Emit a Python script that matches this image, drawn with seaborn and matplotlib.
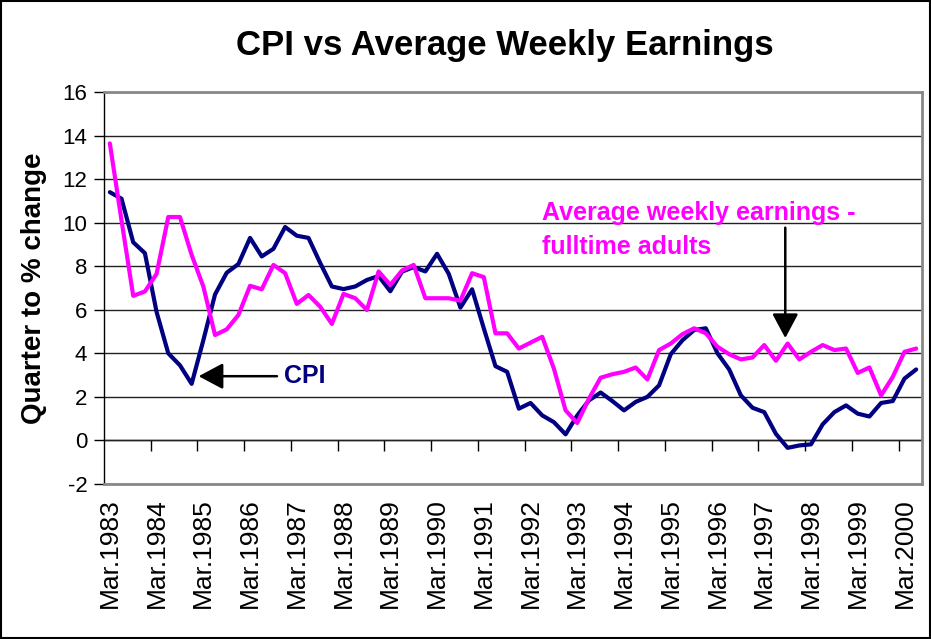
import numpy as np
import pandas as pd
import matplotlib
matplotlib.use('Agg')
from matplotlib import pyplot as plt
from matplotlib.patches import Rectangle
import seaborn as sns

# quarterly % change, Mar.1983 .. Jun.2000
cpi = [11.4, 11.1, 9.1, 8.6, 5.9, 4.0, 3.45, 2.6, 4.6, 6.7,
       7.7, 8.1, 9.3, 8.45, 8.8, 9.8, 9.4, 9.3, 8.15, 7.07,
       6.95, 7.07, 7.37, 7.55, 6.85, 7.75, 7.96, 7.76, 8.57, 7.65,
       6.1, 6.94, 5.15, 3.41, 3.15, 1.46, 1.72, 1.15, 0.84, 0.28,
       1.15, 1.84, 2.2, 1.81, 1.38, 1.77, 2.0, 2.53, 3.96, 4.6,
       5.07, 5.15, 4.0, 3.26, 2.07, 1.5, 1.3, 0.3, -0.34, -0.23,
       -0.18, 0.74, 1.3, 1.61, 1.23, 1.1, 1.72, 1.81, 2.84, 3.26]
awe = [13.64, 10.1, 6.64, 6.84, 7.65, 10.26, 10.26, 8.52, 7.07, 4.84,
       5.1, 5.76, 7.1, 6.94, 8.06, 7.68, 6.27, 6.68, 6.14, 5.35,
       6.73, 6.53, 5.99, 7.76, 7.14, 7.8, 8.06, 6.53, 6.53, 6.53,
       6.42, 7.68, 7.5, 4.92, 4.92, 4.22, 4.49, 4.76, 3.3, 1.38,
       0.8, 1.92, 2.88, 3.04, 3.15, 3.35, 2.8, 4.15, 4.45, 4.88,
       5.15, 4.92, 4.3, 3.96, 3.72, 3.81, 4.38, 3.66, 4.45, 3.72,
       4.07, 4.38, 4.15, 4.22, 3.1, 3.35, 2.07, 2.92, 4.07, 4.22]
tick_labels = ['Mar.1983', 'Mar.1984', 'Mar.1985', 'Mar.1986', 'Mar.1987', 'Mar.1988',
               'Mar.1989', 'Mar.1990', 'Mar.1991', 'Mar.1992', 'Mar.1993', 'Mar.1994',
               'Mar.1995', 'Mar.1996', 'Mar.1997', 'Mar.1998', 'Mar.1999', 'Mar.2000']

df = pd.DataFrame({'q': np.arange(len(cpi)), 'CPI': cpi, 'AWE': awe})

sns.set_style('white')
plt.rcParams['font.family'] = ['Liberation Sans', 'DejaVu Sans']
plt.rcParams['axes.unicode_minus'] = False
for k in ['text.color', 'axes.labelcolor', 'xtick.color', 'ytick.color']:
    plt.rcParams[k] = 'black'

fig = plt.figure(figsize=(9.31, 6.39), dpi=100)
ax = fig.add_axes([104 / 931, 1 - 484 / 639, 818 / 931, 392 / 639])

sns.lineplot(data=df, x='q', y='CPI', color='#000080', lw=3, ax=ax, zorder=3)
sns.lineplot(data=df, x='q', y='AWE', color='#FF00FF', lw=3, ax=ax, zorder=3)

ax.set_xlim(-0.5, len(cpi) - 0.5)
ax.set_ylim(-2, 16)
ax.set_yticks(range(-2, 17, 2))
ax.yaxis.grid(True, color='#222222', lw=1)
ax.set_axisbelow(True)
ax.set_xticks(range(0, len(cpi), 4))
ax.set_xticklabels(tick_labels, rotation=90, fontsize=19)
ax.tick_params(axis='x', length=0, pad=10)
ax.tick_params(axis='y', left=True, length=7, width=1, color='black',
               direction='out', labelsize=16, pad=5)
ax.set_xlabel('')
ax.set_ylabel('Quarter to % change', fontsize=20, fontweight='bold')
ax.yaxis.set_label_coords(-0.07, 0.5)

for s in ['top', 'right', 'bottom']:
    ax.spines[s].set_color('#888888')
    ax.spines[s].set_linewidth(2)
ax.spines['left'].set_color('black')
ax.spines['left'].set_linewidth(1)

# category axis crossing at zero, ticks between categories
zero_ax = ax.secondary_xaxis(2 / 18)
zero_ax.set_xticks(np.arange(3.5, len(cpi), 4), labels=[])
zero_ax.tick_params(length=8, width=1, color='black', direction='out')
zero_ax.spines['bottom'].set_color('black')
zero_ax.spines['bottom'].set_linewidth(1)

fig.text(505 / 931, 1 - 55 / 639, 'CPI vs Average Weekly Earnings',
         ha='center', va='baseline', fontsize=25, fontweight='bold')

ax.annotate('', xy=(7.6, 2.95), xytext=(14.3, 2.95),
            arrowprops=dict(arrowstyle='-|>,head_length=1.5,head_width=0.8',
                            color='black', lw=1.8, shrinkA=0, shrinkB=0))
ax.text(14.9, 2.95, 'CPI', color='#000080', fontsize=18, fontweight='bold',
        ha='left', va='center')

ax.annotate('', xy=(57.8, 4.7), xytext=(57.8, 9.77),
            arrowprops=dict(arrowstyle='-|>,head_length=1.5,head_width=0.8',
                            color='black', lw=1.8, shrinkA=0, shrinkB=0))
ax.text(37.0, 10.14, 'Average weekly earnings -', color='#FF00FF', fontsize=18,
        fontweight='bold', ha='left', va='baseline')
ax.text(37.0, 8.57, 'fulltime adults', color='#FF00FF', fontsize=18,
        fontweight='bold', ha='left', va='baseline')

fig.patches.append(Rectangle((0.001, 0.001), 0.998, 0.998, transform=fig.transFigure,
                             fill=False, edgecolor='black', lw=1.5))

fig.savefig('out.png', dpi=100)
